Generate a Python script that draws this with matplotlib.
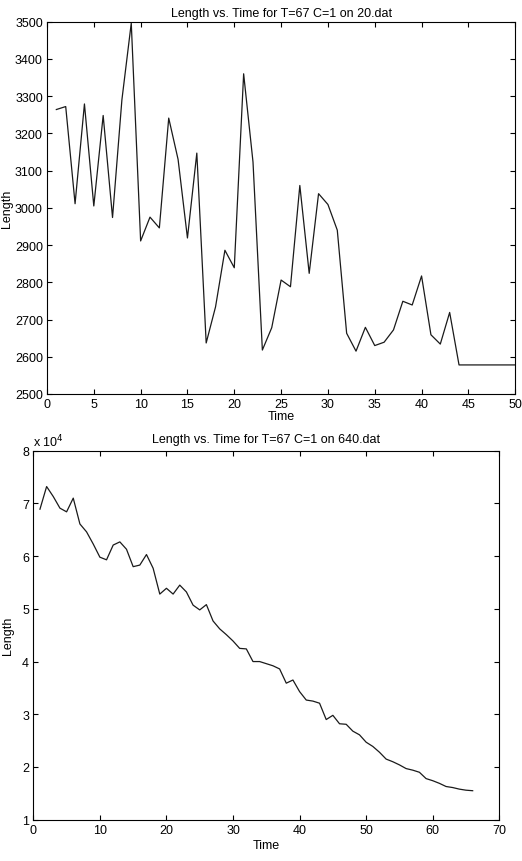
import numpy as np
import matplotlib.pyplot as plt

plt.rcParams['font.family'] = ['Liberation Sans', 'DejaVu Sans']

# top run: 20.dat
time_20 = list(range(1, 51))
length_20 = [3264, 3272, 3011, 3279, 3005, 3248, 2974, 3290, 3496, 2911,
             2975, 2946, 3241, 3130, 2919, 3147, 2637, 2734, 2886, 2839,
             3360, 3123, 2618, 2678, 2806, 2788, 3060, 2824, 3038, 3009,
             2940, 2663, 2615, 2679, 2630, 2639, 2672, 2749, 2739, 2817,
             2659, 2634, 2719, 2578, 2578, 2578, 2578, 2578, 2578, 2578]

# bottom run: 640.dat (units of 1e4)
time_640 = list(range(1, 67))
length_640 = [6.89, 7.32, 7.13, 6.91, 6.84, 7.10, 6.61, 6.46, 6.23, 5.98,
              5.93, 6.21, 6.27, 6.13, 5.80, 5.83, 6.03, 5.77, 5.28, 5.39,
              5.28, 5.45, 5.32, 5.07, 4.98, 5.08, 4.77, 4.62, 4.51, 4.39,
              4.25, 4.24, 4.00, 4.00, 3.96, 3.92, 3.86, 3.59, 3.65, 3.43,
              3.27, 3.25, 3.21, 2.90, 2.98, 2.82, 2.81, 2.68, 2.61, 2.47,
              2.39, 2.28, 2.15, 2.10, 2.04, 1.97, 1.94, 1.90, 1.78, 1.74,
              1.69, 1.63, 1.61, 1.58, 1.56, 1.55]

fs = 9
fig = plt.figure(figsize=(5.22, 8.62), dpi=100)


def style(ax):
    ax.tick_params(direction='in', top=True, right=True, labelsize=fs,
                   length=3.6, width=0.8, pad=3)
    for s in ax.spines.values():
        s.set_linewidth(0.8)


ax1 = fig.add_axes([0.090, 0.5418, 0.897, 0.4319])
ax1.plot(time_20, length_20, color='#1a1a1a', lw=0.9)
ax1.set_xlim(0, 50)
ax1.set_ylim(2500, 3500)
ax1.set_xticks(np.arange(0, 51, 5))
ax1.set_yticks(np.arange(2500, 3501, 100))
ax1.set_title('Length vs. Time for T=67 C=1 on 20.dat', fontsize=fs, pad=4)
ax1.set_xlabel('Time', fontsize=fs, labelpad=0)
ax1.set_ylabel('Length', fontsize=fs, labelpad=1)
style(ax1)

ax2 = fig.add_axes([0.0638, 0.0479, 0.8927, 0.4281])
ax2.plot(time_640, length_640, color='#1a1a1a', lw=0.9)
ax2.set_xlim(0, 70)
ax2.set_ylim(1, 8)
ax2.set_xticks(np.arange(0, 71, 10))
ax2.set_yticks(np.arange(1, 9, 1))
ax2.set_title('Length vs. Time for T=67 C=1 on 640.dat', fontsize=fs, pad=6)
ax2.set_xlabel('Time', fontsize=fs, labelpad=2)
ax2.set_ylabel('Length', fontsize=fs, labelpad=6)
ax2.text(0.0, 1.005, r'x 10$^4$', transform=ax2.transAxes, fontsize=fs,
         ha='left', va='bottom')
style(ax2)

fig.savefig('out.png', dpi=100)
